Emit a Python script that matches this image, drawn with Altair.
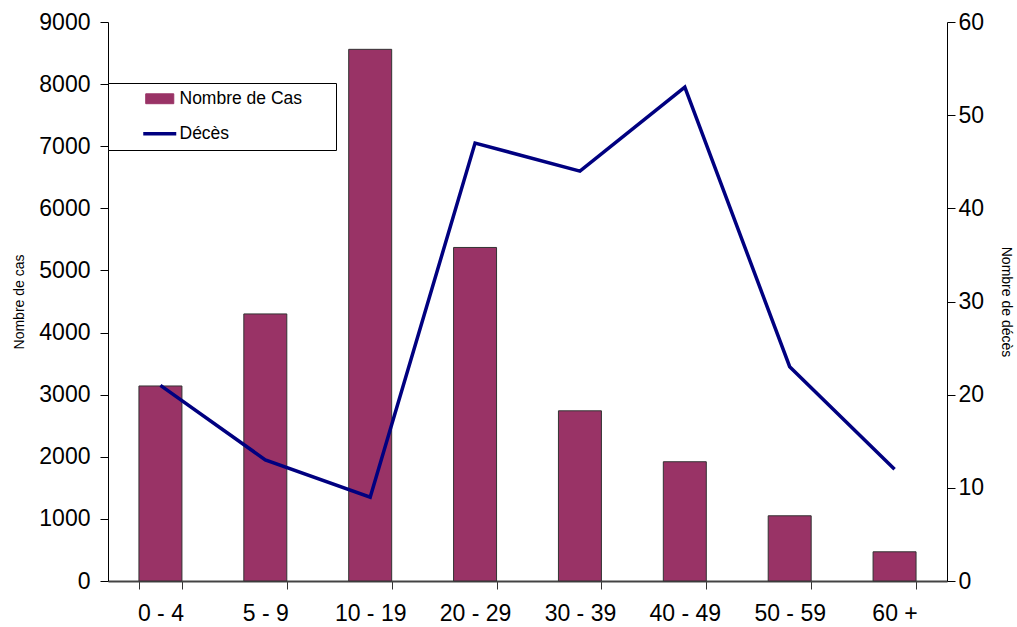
import altair as alt
import pandas as pd

# Age groups, case counts and deaths
tranches = ["0 - 4", "5 - 9", "10 - 19", "20 - 29", "30 - 39", "40 - 49", "50 - 59", "60 +"]
nombre_cas = [3140, 4300, 8560, 5370, 2740, 1920, 1050, 470]
deces = [21, 13, 9, 47, 44, 53, 23, 12]
series = ["Nombre de Cas", "Décès"]

df = pd.DataFrame({"age": tranches, "cas": nombre_cas, "deces": deces})

FONT = "Liberation Sans"
BAR_COLOR = "#993366"
LINE_COLOR = "#000080"
TICK_FONT_SIZE = 23

x_enc = alt.X(
    "age:N",
    sort=tranches,
    scale=alt.Scale(paddingInner=0.59, paddingOuter=0.295),
    axis=alt.Axis(
        title=None,
        labelAngle=0,
        labelFontSize=TICK_FONT_SIZE,
        labelFont=FONT,
        labelColor="black",
        labelPadding=13,
        tickBand="extent",
        tickSize=8,
        tickColor="#333333",
        domainColor="#444444",
        domainWidth=2,
    ),
)

color_scale = alt.Scale(domain=series, range=[BAR_COLOR, LINE_COLOR])

# One legend box: a filled rectangle for the bars, a stroke for the line.
# The hidden title on the right only widens the box.
legend = alt.Legend(
    title="\u2014",
    titleOrient="right",
    titleOpacity=0,
    titleFontSize=15,
    titlePadding=12,
    orient="none",
    legendX=0,
    legendY=61,
    strokeColor="black",
    fillColor="white",
    padding=7,
    rowPadding=16,
    labelFont=FONT,
    labelFontSize=17.5,
    labelColor="black",
    labelLimit=400,
    labelOffset=11,
    symbolSize=1089,
    symbolOffset=36,
    symbolOpacity=1,
    symbolType={"expr": "datum.index === 1 ? 'M-1,0H1' : 'M-0.85,-0.3H0.85V0.3H-0.85Z'"},
    symbolFillColor={"expr": "datum.index === 1 ? 'transparent' : '#993366'"},
    symbolStrokeColor={"expr": "datum.index === 1 ? '#000080' : '#333333'"},
    symbolStrokeWidth={"expr": "datum.index === 1 ? 3.5 : 1"},
)

color_enc = alt.Color("serie:N", scale=color_scale, legend=legend)

bars = alt.Chart(df).transform_calculate(
    serie=f"'{series[0]}'"
).mark_bar(stroke="#333333", strokeWidth=1, opacity=1).encode(
    x=x_enc,
    y=alt.Y(
        "cas:Q",
        scale=alt.Scale(domain=[0, 9000], nice=False),
        axis=alt.Axis(
            title="Nombre de cas",
            titleFont=FONT,
            titleFontSize=14,
            titleFontWeight="normal",
            titleColor="black",
            titlePadding=12,
            values=list(range(0, 9001, 1000)),
            format="d",
            labelFont=FONT,
            labelFontSize=TICK_FONT_SIZE,
            labelColor="black",
            labelPadding=10,
            tickSize=8,
            tickColor="black",
            domainColor="black",
            grid=False,
        ),
    ),
    color=color_enc,
)

line = alt.Chart(df).transform_calculate(
    serie=f"'{series[1]}'"
).mark_line(strokeWidth=3.5).encode(
    x=x_enc,
    y=alt.Y(
        "deces:Q",
        scale=alt.Scale(domain=[0, 60], nice=False),
        axis=alt.Axis(
            orient="right",
            title="Nombre de décès",
            titleFont=FONT,
            titleFontSize=14,
            titleFontWeight="normal",
            titleColor="black",
            titlePadding=15,
            values=list(range(0, 61, 10)),
            labelFont=FONT,
            labelFontSize=TICK_FONT_SIZE,
            labelColor="black",
            labelPadding=3,
            tickSize=8,
            tickColor="black",
            domainColor="black",
            grid=False,
        ),
    ),
    color=color_enc,
)

chart = (
    alt.layer(bars, line)
    .resolve_scale(y="independent")
    .properties(
        width=839,
        height=559,
        autosize=alt.AutoSizeParams(type="none"),
        padding={"left": 108, "top": 22, "right": 70, "bottom": 46},
        background="white",
    )
    .configure_view(stroke=None)
)

chart.save("out.html", embed_options={"renderer": "svg", "actions": False})
